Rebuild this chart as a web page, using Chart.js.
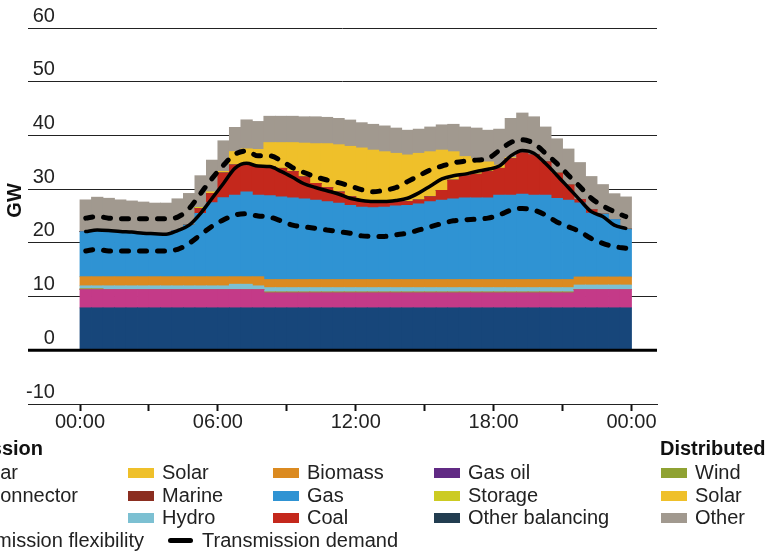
<!DOCTYPE html>
<html><head><meta charset="utf-8">
<script src="https://cdn.jsdelivr.net/npm/chart.js@4.4.1/dist/chart.umd.min.js"></script>
<style>
html,body{margin:0;padding:0;background:#fff;}
#wrap{position:relative;width:772px;height:551px;overflow:hidden;font-family:"Liberation Sans",Arial,sans-serif;color:#222;}
#c{position:absolute;left:0;top:0;}
.lg{position:absolute;height:24px;line-height:24px;font-size:20px;white-space:nowrap;}
.sw{display:inline-block;width:26px;height:10px;vertical-align:middle;margin-right:8px;position:relative;top:-1px;}
.ln{display:inline-block;width:25px;height:5px;border-radius:3px;background:#000;vertical-align:middle;margin-right:9px;position:relative;top:-1px;}
.dl{display:inline-block;width:26px;height:0;border-top:5px dashed #000;vertical-align:middle;margin-right:8px;}
.hd{font-weight:bold;color:#111;}
</style></head>
<body><div id="wrap"><canvas id="c" width="772" height="551"></canvas><div id="legend"></div></div>
<script>
// ---- categories: half-hour settlement periods ----
const periods = ['00:00','00:30','01:00','01:30','02:00','02:30','03:00','03:30','04:00','04:30','05:00','05:30',
 '06:00','06:30','07:00','07:30','08:00','08:30','09:00','09:30','10:00','10:30','11:00','11:30',
 '12:00','12:30','13:00','13:30','14:00','14:30','15:00','15:30','16:00','16:30','17:00','17:30',
 '18:00','18:30','19:00','19:30','20:00','20:30','21:00','21:30','22:00','22:30','23:00','23:30'];

// ---- tick labels ----
const tickHours = [0,3,6,9,12,15,18,21,24];
const labelHours = [0,6,12,18,24];
const tickLabels = ['00:00','06:00','12:00','18:00','00:00'];
const yTicks = [-10,0,10,20,30,40,50,60];
const yTitle = 'GW';

// ---- series values (GW) ----
const nuclear = [7.9,7.9,7.9,7.9,7.9,7.9,7.9,7.9,7.9,7.9,7.9,7.9,7.9,7.9,7.9,7.9,7.9,7.9,7.9,7.9,7.9,7.9,7.9,7.9,
 7.9,7.9,7.9,7.9,7.9,7.9,7.9,7.9,7.9,7.9,7.9,7.9,7.9,7.9,7.9,7.9,7.9,7.9,7.9,7.9,7.9,7.9,7.9,7.9];
const interconnector = [3.4,3.4,3.4,3.4,3.4,3.4,3.4,3.4,3.4,3.4,3.4,3.4,3.4,3.4,3.4,3.4,
 2.8,2.8,2.8,2.8,2.8,2.8,2.8,2.8,2.8,2.8,2.8,2.8,2.8,2.8,2.8,2.8,2.8,2.8,2.8,2.8,2.8,2.8,2.8,2.8,2.8,2.8,2.8,
 3.4,3.4,3.4,3.4,3.4];
const windT = [0.1,0.1,0,0,0,0,0,0,0,0,0,0,0,0,0,0,
 0.12,0.12,0.12,0.12,0.12,0.12,0.12,0.12,0.12,0.12,0.12,0.12,0.12,0.12,0.12,0.12,0.12,0.12,0.12,0.12,0.12,0.12,0.12,0.12,0.12,0.12,0.12,
 0,0,0,0,0];
const solarT = [0,0,0,0,0,0,0,0,0,0,0,0,0,0,0,0,0,0,0,0,0,0,0,0,0,0,0,0,0,0,0,0,0,0,0,0,0,0,0,0,0,0,0,0,0,0,0,0];
const marine = [0,0,0,0,0,0,0,0,0,0,0,0,0,0,0,0,0,0,0,0,0,0,0,0,0,0,0,0,0,0,0,0,0,0,0,0,0,0,0,0,0,0,0,0,0,0,0,0];
const hydro = [0.6,0.6,0.7,0.7,0.7,0.7,0.7,0.7,0.7,0.7,0.7,0.7,0.7,1.0,1.0,0.7,
 0.85,0.85,0.85,0.85,0.85,0.85,0.85,0.85,0.85,0.85,0.85,0.85,0.85,0.85,0.85,0.85,0.85,0.85,0.85,0.85,0.85,0.85,0.85,0.85,0.85,0.85,0.85,
 0.85,0.85,0.85,0.85,0.85];
const biomass = [1.7,1.7,1.7,1.7,1.7,1.7,1.7,1.7,1.7,1.7,1.7,1.7,1.7,1.4,1.4,1.7,
 1.5,1.5,1.5,1.5,1.5,1.5,1.5,1.5,1.5,1.5,1.5,1.5,1.5,1.5,1.5,1.5,1.5,1.5,1.5,1.5,1.5,1.5,1.5,1.5,1.5,1.5,1.5,
 1.5,1.5,1.5,1.5,1.5];
const gas = [8.4,8.7,8.6,8.4,8.3,8.1,8.0,7.9,8.6,9.6,11.8,13.8,14.7,15.2,15.8,15.2,15.6,15.4,15.2,15.0,
 14.8,14.5,14.2,13.8,13.5,13.4,13.5,13.7,13.8,14.1,14.5,14.8,15.0,15.2,15.2,15.2,15.7,15.7,15.9,15.7,
 15.7,15.1,14.8,13.8,11.9,11.7,10.7,8.9];
const coal = [0,0,0,0,0,0,0,0,0,0,0.9,1.7,4.6,5.6,5.3,5.4,5.4,5.3,4.9,4.1,
 3.1,2.6,2.1,1.6,1.2,1.1,1.0,0.8,0.7,0.7,0.9,1.8,3.5,4.1,4.4,4.9,5.0,6.8,7.7,7.5,
 6.2,4.7,2.8,0.6,0.6,0,0,0];
const gasOil = [0,0,0,0,0,0,0,0,0,0,0,0,0,0,0,0,0,0,0,0,0,0,0,0,0,0,0,0,0,0,0,0,0,0,0,0,0,0,0,0,0,0,0,0,0,0,0,0];
const storage = [0,0,0,0,0,0,0,0,0,0,0.2,0,0,0,0,0,0,0,0,0,0,0,0,0,0,0,0,0,0,0,0,0,0,0,0,0,0,0,0,0,0,0,0,0,0,0,0,0];
const otherBalancing = [0,0,0,0,0,0,0,0,0,0,0,0,0,0,0,0,0,0,0,0,0,0,0,0,0,0,0,0,0,0,0,0,0,0,0,0,0,0,0,0,0,0,0,0,0,0,0,0];
const windD = [0,0,0,0,0,0,0,0,0,0,0,0,0,0,0,0,0,0,0,0,0,0,0,0,0,0,0,0,0,0,0,0,0,0,0,0,0,0,0,0,0,0,0,0,0,0,0,0];
const solarD = [0,0,0,0,0,0,0,0,0,0,0,0.3,0.3,2.5,2.7,3.1,4.5,4.8,5.4,6.3,
 7.4,8.2,8.8,9.4,9.8,9.6,9.3,9.0,8.7,8.7,8.4,7.5,5.3,3.6,2.9,1.8,0.6,0.2,0,0,
 0,0,0,0,0,0,0,0];
const otherD = [5.9,6.1,6.0,5.9,5.8,5.8,5.7,5.8,5.9,5.9,5.9,5.9,5.7,4.5,5.4,5.2,4.9,4.9,4.9,4.9,
 5.0,4.9,4.9,4.9,4.7,4.8,4.8,4.7,4.6,4.5,4.6,4.7,5.1,5.5,5.7,5.9,6.7,7.3,7.4,7.1,
 6.5,6.4,6.7,6.9,6.2,5.5,4.8,6.0];

const demand = [22.1,22.4,22.3,22.1,22.0,21.8,21.7,21.6,22.3,23.3,25.5,28.3,31.1,33.9,34.8,34.3,34.2,33.3,32.2,31.0,
 30.3,29.7,29.1,28.3,27.9,27.7,27.7,27.9,28.3,29.3,30.6,31.9,32.5,32.8,33.3,33.7,34.3,36.2,37.2,36.7,
 34.8,32.6,30.3,28.0,25.8,24.9,23.3,22.7];
const flexUpper = [24.6,24.9,24.6,24.5,24.5,24.5,24.5,24.5,24.8,26.4,29.2,32.0,34.5,36.5,37.1,36.2,36.2,35.3,34.0,33.1,
 32.3,31.7,31.2,30.6,29.9,29.5,29.8,30.3,31.4,32.5,33.6,34.3,34.9,35.2,35.4,35.7,37.2,38.7,39.2,38.5,
 36.7,34.8,32.6,30.5,28.3,26.9,25.8,24.9];
const flexLower = [18.5,18.8,18.5,18.5,18.5,18.5,18.5,18.5,18.8,19.9,21.5,23.1,24.3,25.2,25.4,25.0,24.8,24.1,23.3,23.0,
 22.7,22.4,22.1,21.8,21.3,21.2,21.2,21.5,21.8,22.4,23.0,23.6,24.1,24.3,24.4,24.6,25.2,26.1,26.4,26.1,
 25.2,23.9,23.0,22.1,20.8,19.9,19.3,19.0];

// ---- styling ----
const FONT = '"Liberation Sans", Arial, sans-serif';
const TEXT = '#222';
const barDefs = [
  ['Nuclear', nuclear, '#17467A'],
  ['Interconnector', interconnector, '#C43A88'],
  ['Wind', windT, '#8A9A30'],
  ['Solar', solarT, '#EFC02A'],
  ['Marine', marine, '#8B2E20'],
  ['Hydro', hydro, '#7CC0D2'],
  ['Biomass', biomass, '#DB8A20'],
  ['Gas', gas, '#2F93D3'],
  ['Coal', coal, '#C4281C'],
  ['Gas oil', gasOil, '#612A84'],
  ['Storage', storage, '#CCCB22'],
  ['Other balancing', otherBalancing, '#223D50'],
  ['Distributed wind', windD, '#8FA232'],
  ['Distributed solar', solarD, '#EFC02A'],
  ['Distributed other', otherD, '#A1998F']
];

const hourOf = s => { const p = s.split(':').map(Number); return p[0] + p[1] / 60; };
const xs = periods.map(p => hourOf(p) + 0.25);
const toXY = arr => arr.map((v, i) => ({x: xs[i], y: v}));

const datasets = barDefs.map(([label, arr, color]) => ({
  type: 'bar', label, data: toXY(arr), backgroundColor: color, borderWidth: 0,
  stack: 'gen', order: 2, barPercentage: 1, categoryPercentage: 1, inflateAmount: 0.4
}));
const lineBase = {type: 'line', pointRadius: 0, fill: false, borderColor: '#000', cubicInterpolationMode: 'monotone', order: 0};
datasets.push(Object.assign({}, lineBase, {label: 'Transmission flexibility upper', data: toXY(flexUpper), borderWidth: 5, borderDash: [7, 11], borderCapStyle: 'round', stack: 'fu'}));
datasets.push(Object.assign({}, lineBase, {label: 'Transmission flexibility lower', data: toXY(flexLower), borderWidth: 5, borderDash: [7, 11], borderCapStyle: 'round', stack: 'fl'}));
datasets.push(Object.assign({}, lineBase, {label: 'Transmission demand', data: toXY(demand), borderWidth: 3.5, borderCapStyle: 'round', stack: 'dm'}));

const extras = {
  id: 'extras',
  afterDatasetsDraw(chart) {
    const {ctx, chartArea: a, scales: {y}} = chart;
    const py = y.getPixelForValue(0);
    ctx.save();
    ctx.strokeStyle = '#000';
    ctx.lineWidth = 3;
    ctx.beginPath(); ctx.moveTo(a.left, py); ctx.lineTo(a.right, py); ctx.stroke();
    // axis title
    ctx.translate(15.5, y.getPixelForValue(27.9));
    ctx.rotate(-Math.PI / 2);
    ctx.font = 'bold 20px ' + FONT;
    ctx.fillStyle = '#111';
    ctx.textAlign = 'center';
    ctx.textBaseline = 'middle';
    ctx.fillText(yTitle, 0, 0);
    ctx.restore();
  }
};

new Chart(document.getElementById('c'), {
  type: 'bar',
  data: {datasets},
  plugins: [extras],
  options: {
    responsive: false, animation: false, parsing: true,
    layout: {padding: {left: 0, top: 28, right: 115, bottom: 117}},
    plugins: {legend: {display: false}, tooltip: {enabled: false}},
    scales: {
      x: {
        type: 'linear', min: -2.263, max: 25.11, stacked: true, offset: false,
        afterBuildTicks: s => { s.ticks = tickHours.map(v => ({value: v})); },
        afterFit: s => { s.height = 30; },
        ticks: {
          autoSkip: false, maxRotation: 0, minRotation: 0, padding: -1,
          font: {size: 20, family: FONT}, color: TEXT,
          callback: v => { const k = labelHours.indexOf(v); return k >= 0 ? tickLabels[k] : ''; }
        },
        grid: {drawOnChartArea: false, drawTicks: true, tickLength: 7, tickWidth: 2, tickColor: '#111', offset: false},
        border: {display: true, color: '#222', width: 1}
      },
      y: {
        min: yTicks[0], max: yTicks[yTicks.length - 1], stacked: true,
        afterBuildTicks: s => { s.ticks = yTicks.map(v => ({value: v})); },
        afterFit: s => { s.width = 28; },
        ticks: {mirror: true, crossAlign: 'far', padding: -2, labelOffset: -12, font: {size: 20, family: FONT}, color: TEXT},
        grid: {color: '#222', lineWidth: 1, drawTicks: false},
        border: {display: false},
        title: {display: false}
      }
    }
  }
});

// ---- HTML legend (cropped at the left, as in the reference) ----
const rowTop = [436, 460, 483, 505, 528];
const legendItems = [
  {hd: 'Transmission', right: 729, row: 0},
  {hd: 'Distributed', left: 660, row: 0},
  {t: 'Nuclear', c: '#17467A', right: 754, row: 1},
  {t: 'Interconnector', c: '#C43A88', right: 694, row: 2},
  {t: 'Wind', c: '#8A9A30', right: 778, row: 3},
  {t: 'Solar', c: '#EFC02A', left: 128, row: 1},
  {t: 'Marine', c: '#8B2E20', left: 128, row: 2},
  {t: 'Hydro', c: '#7CC0D2', left: 128, row: 3},
  {t: 'Biomass', c: '#DB8A20', left: 273, row: 1},
  {t: 'Gas', c: '#2F93D3', left: 273, row: 2},
  {t: 'Coal', c: '#C4281C', left: 273, row: 3},
  {t: 'Gas oil', c: '#612A84', left: 434, row: 1},
  {t: 'Storage', c: '#CCCB22', left: 434, row: 2},
  {t: 'Other balancing', c: '#223D50', left: 434, row: 3},
  {t: 'Wind', c: '#8FA232', left: 661, row: 1},
  {t: 'Solar', c: '#EFC02A', left: 661, row: 2},
  {t: 'Other', c: '#A1998F', left: 661, row: 3},
  {t: 'Transmission flexibility', dash: true, right: 628, row: 4},
  {t: 'Transmission demand', line: true, left: 168, row: 4}
];
const lg = document.getElementById('legend');
legendItems.forEach(it => {
  const d = document.createElement('div');
  d.className = 'lg' + (it.hd ? ' hd' : '');
  d.style.top = rowTop[it.row] + 'px';
  if (it.left !== undefined) d.style.left = it.left + 'px';
  if (it.right !== undefined) d.style.right = it.right + 'px';
  if (it.hd) { d.textContent = it.hd; }
  else {
    const s = document.createElement('span');
    if (it.line) s.className = 'ln';
    else if (it.dash) s.className = 'dl';
    else { s.className = 'sw'; s.style.background = it.c; }
    d.appendChild(s);
    d.appendChild(document.createTextNode(it.t));
  }
  lg.appendChild(d);
});
</script>
</body></html>
